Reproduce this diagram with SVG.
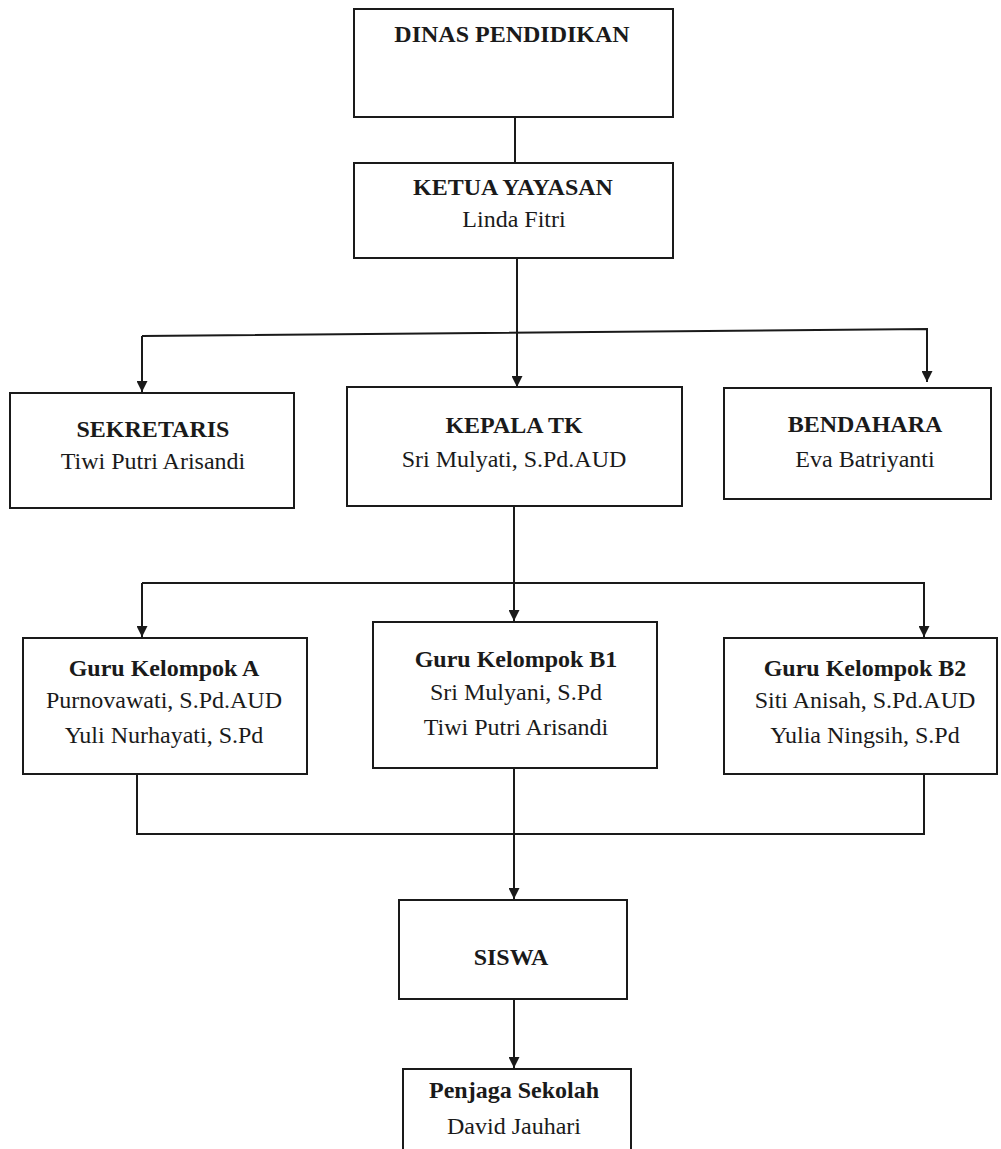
<svg xmlns="http://www.w3.org/2000/svg" width="1001" height="1149" viewBox="0 0 1001 1149">
<style>
.box{fill:#fff;stroke:#1a1a1a;stroke-width:2}
.ln{fill:none;stroke:#1a1a1a;stroke-width:2}
text{font-family:"Liberation Serif","Times New Roman",serif;font-size:24px;fill:#1a1a1a;text-anchor:middle}
.b{font-weight:bold}
</style>
<defs>
<marker id="ah" viewBox="0 0 10 10" refX="10" refY="5" markerWidth="11" markerHeight="11" markerUnits="userSpaceOnUse" orient="auto">
<path d="M0,0 L10,5 L0,10 Z" fill="#1a1a1a"/>
</marker>
</defs>
<g id="connectors">
<line class="ln" x1="515" y1="117" x2="515" y2="163"/>
<line class="ln" x1="517" y1="258" x2="517" y2="387" marker-end="url(#ah)"/>
<polyline class="ln" points="142,336 927,329 927,382" marker-end="url(#ah)"/>
<line class="ln" x1="142" y1="336" x2="142" y2="392" marker-end="url(#ah)"/>
<line class="ln" x1="514" y1="506" x2="514" y2="621" marker-end="url(#ah)"/>
<polyline class="ln" points="142,583 924,583 924,637" marker-end="url(#ah)"/>
<line class="ln" x1="142" y1="583" x2="142" y2="637" marker-end="url(#ah)"/>
<polyline class="ln" points="137,774 137,834 924,834 924,774"/>
<line class="ln" x1="514" y1="768" x2="514" y2="899" marker-end="url(#ah)"/>
<line class="ln" x1="514" y1="999" x2="514" y2="1068" marker-end="url(#ah)"/>
</g>
<g id="dinas">
<rect class="box" x="354" y="9" width="319" height="108"/>
<text class="b" x="512" y="42">DINAS PENDIDIKAN</text>
</g>
<g id="ketua">
<rect class="box" x="354" y="163" width="319" height="95"/>
<text class="b" x="513" y="195">KETUA YAYASAN</text>
<text x="514" y="227">Linda Fitri</text>
</g>
<g id="sekretaris">
<rect class="box" x="10" y="393" width="284" height="115"/>
<text class="b" x="153" y="437">SEKRETARIS</text>
<text x="153" y="469">Tiwi Putri Arisandi</text>
</g>
<g id="kepala">
<rect class="box" x="347" y="387" width="335" height="119"/>
<text class="b" x="514" y="433">KEPALA TK</text>
<text x="514" y="467">Sri Mulyati, S.Pd.AUD</text>
</g>
<g id="bendahara">
<rect class="box" x="724" y="388" width="267" height="111"/>
<text class="b" x="865" y="432">BENDAHARA</text>
<text x="865" y="467">Eva Batriyanti</text>
</g>
<g id="guruA">
<rect class="box" x="23" y="638" width="284" height="136"/>
<text class="b" x="164" y="676">Guru Kelompok A</text>
<text x="164" y="708">Purnovawati, S.Pd.AUD</text>
<text x="164" y="743">Yuli Nurhayati, S.Pd</text>
</g>
<g id="guruB1">
<rect class="box" x="373" y="622" width="284" height="146"/>
<text class="b" x="516" y="667">Guru Kelompok B1</text>
<text x="516" y="700">Sri Mulyani, S.Pd</text>
<text x="516" y="735">Tiwi Putri Arisandi</text>
</g>
<g id="guruB2">
<rect class="box" x="724" y="638" width="273" height="136"/>
<text class="b" x="865" y="676">Guru Kelompok B2</text>
<text x="865" y="708">Siti Anisah, S.Pd.AUD</text>
<text x="865" y="743">Yulia Ningsih, S.Pd</text>
</g>
<g id="siswa">
<rect class="box" x="399" y="900" width="228" height="99"/>
<text class="b" x="511" y="965">SISWA</text>
</g>
<g id="penjaga">
<rect class="box" x="403" y="1069" width="228" height="100"/>
<text class="b" x="514" y="1098">Penjaga Sekolah</text>
<text x="514" y="1134">David Jauhari</text>
</g>
</svg>
